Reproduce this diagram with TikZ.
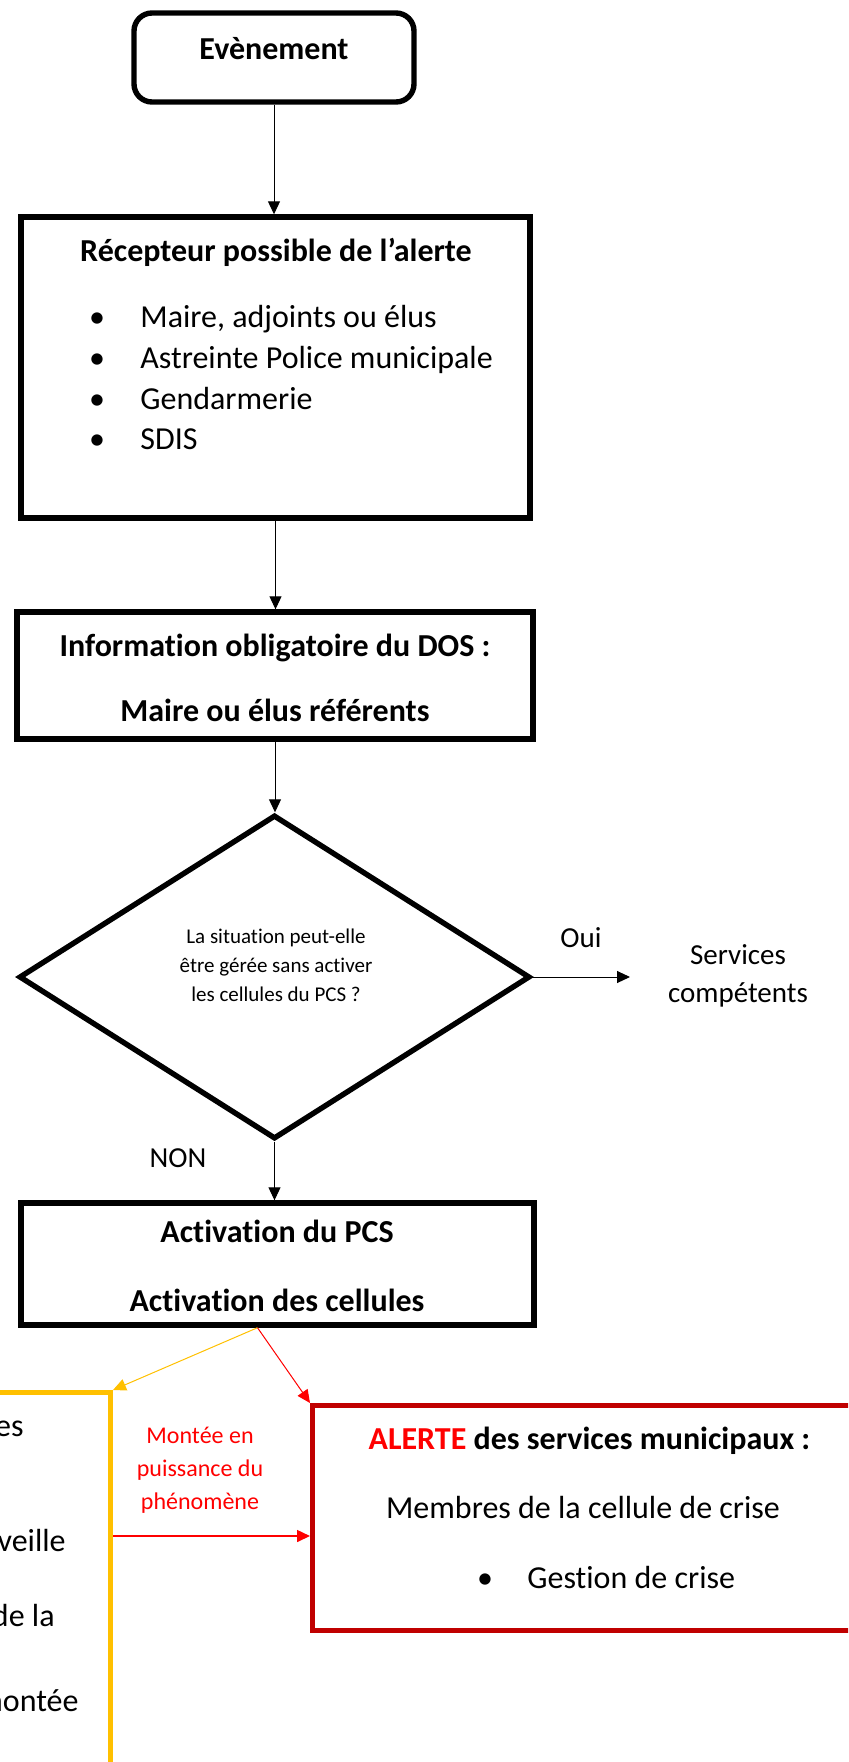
\documentclass[tikz,border=0pt]{standalone}
\usepackage{fontspec}
\setmainfont{Carlito}[Ligatures=NoCommon]
\usetikzlibrary{arrows.meta,shapes.geometric}

\definecolor{jaune}{HTML}{FFC000}
\definecolor{rougefonce}{HTML}{C00000}
\definecolor{rougevif}{HTML}{FF0000}

\begin{document}
\begin{tikzpicture}[x=0.5pt, y=-0.5pt,
        >={Triangle[length=6.5pt,width=6pt]},
        boite/.style={draw, rectangle, line width=2.7pt, inner sep=0pt},
        txt/.style={font=\fontsize{16pt}{19pt}\selectfont, inner sep=0pt, anchor=mid, yshift=-2.5pt},
        titre/.style={txt, font=\fontsize{16pt}{19pt}\selectfont\bfseries},
        fleche/.style={->, line width=0.5pt}]
        \useasboundingbox (0,0) rectangle (848,1762);
        \clip (0,0) rectangle (848,1762);

        \node[boite, rounded corners=9pt, minimum width=140pt, minimum height=44.5pt] (evt) at (274,57.5) {};
        \node[titre] (evttxt) at (274,50) {Evènement};

        \node[boite, minimum width=254.5pt, minimum height=150.5pt] (recep) at (275.5,367.5) {};
        \node[titre] (receptitre) at (276,252) {Récepteur possible de l’alerte};
        \node[txt] (puce1) at (97,318) {•};
        \node[txt, anchor=mid west] (item1) at (140,318) {Maire, adjoints ou élus};
        \node[txt] (puce2) at (97,359) {•};
        \node[txt, anchor=mid west] (item2) at (140,359) {Astreinte Police municipale};
        \node[txt] (puce3) at (97,400) {•};
        \node[txt, anchor=mid west] (item3) at (140,400) {Gendarmerie};
        \node[txt] (puce4) at (97,440) {•};
        \node[txt, anchor=mid west] (item4) at (140,440) {SDIS};

        \node[boite, minimum width=258pt, minimum height=63.5pt] (info) at (275,675.5) {};
        \node[titre] (infotitre) at (275,647) {Information obligatoire du DOS :};
        \node[titre] (infodos) at (275,712) {Maire ou élus référents};

        \node[draw, diamond, line width=2.7pt, inner sep=0pt, minimum width=255.5pt, minimum height=162pt] (quest) at (274.5,977) {};
        \node[font=\fontsize{10.5pt}{14.5pt}\selectfont, align=center, inner sep=0pt] (questtxt) at (276,965) {La situation peut-elle\\être gérée sans activer\\les cellules du PCS ?};
        \coordinate (ouifin) at (630,977);
        \node[txt, font=\fontsize{14.5pt}{19pt}\selectfont] (oui) at (581,938) {Oui};
        \node[font=\fontsize{14.5pt}{19pt}\selectfont, align=center, inner sep=0pt] (serv) at (738,976) {Services\\compétents};
        \node[txt, font=\fontsize{14.5pt}{19pt}\selectfont] (non) at (178,1158) {NON};

        \node[boite, minimum width=256.5pt, minimum height=61pt] (activ) at (277.5,1264) {};
        \node[titre] (activpcs) at (277,1233) {Activation du PCS};
        \node[titre] (activcel) at (277,1302) {Activation des cellules};

        \node[boite, draw=jaune, line width=2.5pt, minimum width=75.25pt, minimum height=203.75pt] (veille) at (35.25,1596.25) {};
        \node[txt, anchor=mid east] (v1) at (24,1427) {es};
        \node[txt, anchor=mid east] (v2) at (66,1542) {veille};
        \node[txt, anchor=mid east] (v3) at (55,1617) {de la};
        \node[txt, anchor=mid east] (v4) at (79,1702) {montée};

        \node[font=\fontsize{12pt}{16.5pt}\selectfont, text=rougevif, align=center, inner sep=0pt] (montee) at (200,1470) {Montée en\\puissance du\\phénomène};
        \coordinate (hausse) at (200,1536);

        \node[boite, draw=rougefonce, line width=2.5pt, minimum width=293.75pt, minimum height=112.5pt] (alerte) at (606.25,1518) {};
        \node[titre] (alertetitre) at (589.5,1440) {\textcolor{rougevif}{ALERTE} des services municipaux :};
        \node[txt] (membres) at (583,1509) {Membres de la cellule de crise};
        \node[txt] (puce5) at (485,1579) {•};
        \node[txt, anchor=mid west] (gestion) at (527,1579) {Gestion de crise};

        \draw[fleche] (evt.south) -- (evt.south |- recep.north);
        \draw[fleche] (recep.south) -- (recep.south |- info.north);
        \draw[fleche] (info.south) -- (info.south |- quest.north);
        \draw[fleche] (quest.east) -- (ouifin);
        \draw[fleche] (quest.south) -- (quest.south |- activ.north);
        \draw[fleche, jaune] ([xshift=-10pt]activ.south) -- (veille.north east);
        \draw[fleche, rougevif] ([xshift=-10pt]activ.south) -- (alerte.north west);
        \draw[fleche, rougevif, line width=0.8pt] (veille.east |- hausse) -- (alerte.west |- hausse);
    \end{tikzpicture}
\end{document}
